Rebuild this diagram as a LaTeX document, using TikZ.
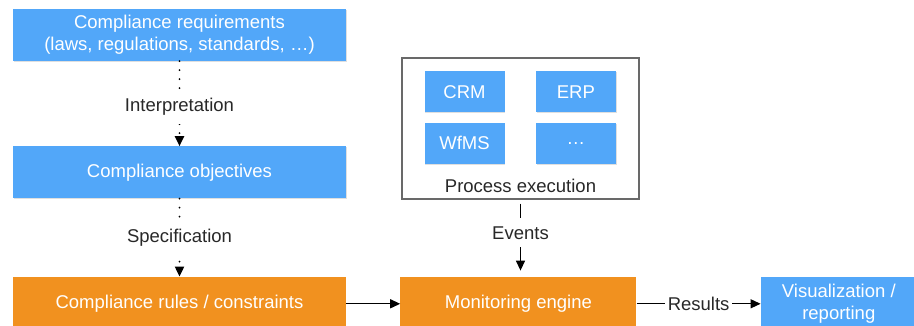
\documentclass[tikz,border=0pt]{standalone}
\usepackage{fontspec}
\setmainfont{Liberation Sans}
\usetikzlibrary{positioning, arrows.meta, shadows}
\definecolor{boxblue}{RGB}{82,167,249}
\definecolor{boxorange}{RGB}{241,145,31}
\definecolor{labelgray}{RGB}{40,40,40}
\definecolor{framegray}{RGB}{105,105,105}
\tikzset{
    x=1pt, y=1pt, % one unit is one pixel of the sketch
    >={Triangle[length=10pt, width=9pt]}, % filled arrow heads
    font=\fontsize{18.5}{22}\selectfont, % light sans text everywhere
    bluebox/.style={fill=boxblue, text=white, align=center, inner sep=0pt,
        drop shadow={opacity=0.25, shadow xshift=0.6pt, shadow yshift=-1pt}}, % requirement boxes
    orangebox/.style={fill=boxorange, text=white, align=center, inner sep=0pt}, % monitoring chain
    framebox/.style={draw=framegray, line width=1.4pt, fill=white}, % process execution frame
    steplabel/.style={fill=white, text=labelgray, inner xsep=3pt, inner ysep=8pt}, % text on a connector
    dotline/.style={line width=2pt, dash pattern=on 0pt off 9pt, line cap=round}, % dotted refinement
    flow/.style={line width=1.3pt}, % solid connector
}
\begin{document}
\begin{tikzpicture}
    \useasboundingbox (0,0) rectangle (914,326);
    \node[bluebox, minimum width=333pt, minimum height=52pt] (req) at (179.5,291)
        {Compliance requirements\\(laws, regulations, standards, \dots)};
    \node[bluebox, minimum width=333pt, minimum height=52pt, below=85pt of req] (obj)
        {Compliance objectives};
    \node[orangebox, minimum width=333pt, minimum height=54pt, below=78pt of obj] (rules)
        {Compliance rules / constraints};
    \node[orangebox, minimum width=236pt, minimum height=54pt, right=54pt of rules] (monitor)
        {Monitoring engine};
    \node[bluebox, minimum width=156pt, minimum height=54pt, right=124pt of monitor] (vis)
        {Visualization /\\reporting};
    % process execution frame with its systems
    \node[framebox, minimum width=237pt, minimum height=141pt] (exec) at (520.5,197.5) {};
    \node[bluebox, minimum width=80pt, minimum height=41pt, below right=14pt and 23pt of exec.north west] (crm) {CRM};
    \node[bluebox, minimum width=80pt, minimum height=41pt, right=31pt of crm] (erp) {ERP};
    \node[bluebox, minimum width=80pt, minimum height=41pt, below=10pt of crm] (wfms) {WfMS};
    \node[bluebox, minimum width=80pt, minimum height=41pt, right=31pt of wfms] (more) {\dots};
    \node[text=labelgray, inner sep=0pt, above=7pt of exec.south] (execlabel) {Process execution};
    % connectors
    \draw[dotline, ->] (req) -- node[steplabel, pos=0.54] {Interpretation} (obj);
    \draw[dotline, ->] (obj) -- node[steplabel] {Specification} (rules);
    \draw[flow, ->] (rules) -- (monitor);
    \draw[flow, ->, shorten <=4pt, shorten >=6pt] (exec.south) -- node[steplabel, pos=0.43] {Events} (exec.south |- monitor.north);
    \draw[flow, ->] (monitor) -- node[steplabel, inner ysep=3pt] {Results} (vis);
\end{tikzpicture}
\end{document}
